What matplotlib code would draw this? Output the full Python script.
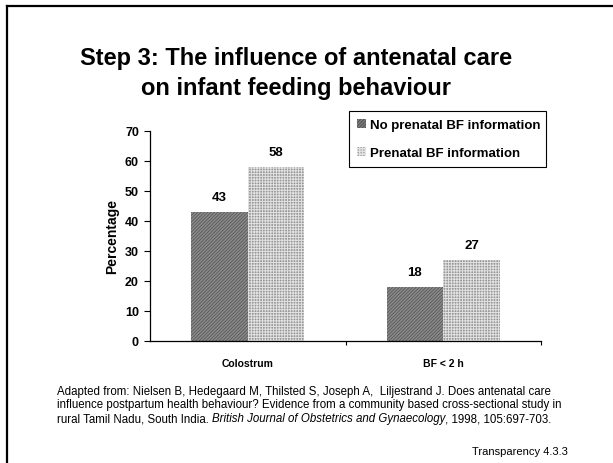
import matplotlib
matplotlib.use("Agg")
import matplotlib.pyplot as plt
from matplotlib.lines import Line2D
import numpy as np

plt.rcParams['font.family'] = ['Liberation Sans', 'DejaVu Sans']

categories = ["Colostrum", "BF < 2 h"]
series_names = ["No prenatal BF information", "Prenatal BF information"]
no_info = [43, 18]
with_info = [58, 27]
y_ticks = [0, 10, 20, 30, 40, 50, 60, 70]

W, H = 613, 464
fig = plt.figure(figsize=(W / 100, H / 100), dpi=100)


def fx(px):
    return px / W


def fy(py):
    return 1 - py / H


# slide frame: top and left edges (the rest runs off the page)
fig.lines.append(Line2D([fx(7), 1.0], [fy(7), fy(7)], transform=fig.transFigure,
                        color='black', linewidth=1.6))
fig.lines.append(Line2D([fx(7), fx(7)], [fy(7), 0.0], transform=fig.transFigure,
                        color='black', linewidth=1.6))

fig.text(fx(296), fy(58), "Step 3: The influence of antenatal care",
         ha='center', va='center', fontsize=17, fontweight='bold')
fig.text(fx(296), fy(88), "on infant feeding behaviour",
         ha='center', va='center', fontsize=17, fontweight='bold')

ax = fig.add_axes([fx(150), fy(342), (541 - 150) / W, (342 - 132) / H])

x = np.arange(len(categories))
bw = 0.29
with plt.rc_context({'hatch.linewidth': 0.6}):
    b1 = ax.bar(x - bw / 2, no_info, bw, facecolor='#8a8a8a', edgecolor='#585858',
                hatch='//////////', linewidth=0, label=series_names[0])
with plt.rc_context({'hatch.linewidth': 0.7}):
    b2 = ax.bar(x + bw / 2, with_info, bw, facecolor='#999999', edgecolor='#e2e2e2',
                hatch='++++++', linewidth=0, label=series_names[1])

for bars, vals in ((b1, no_info), (b2, with_info)):
    for r, v in zip(bars, vals):
        ax.text(r.get_x() + r.get_width() / 2, v + 3, str(v), ha='center',
                va='bottom', fontsize=9.5, fontweight='bold')

ax.set_xlim(-0.5, 1.5)
ax.set_ylim(0, 70)
ax.set_yticks(y_ticks)
ax.set_yticklabels([str(t) for t in y_ticks], fontsize=9, fontweight='bold')
ax.set_xticks(x)
ax.set_xticklabels(categories, fontsize=7.5, fontweight='bold')
ax.tick_params(axis='x', which='major', length=0, pad=12)
ax.set_xticks([0.5, 1.5], minor=True)
ax.tick_params(axis='x', which='minor', length=3, direction='out', width=0.8)
ax.tick_params(axis='y', length=4, width=0.8, pad=4)
ax.set_ylabel("Percentage", fontsize=10, fontweight='bold', labelpad=4)
for s in ('top', 'right'):
    ax.spines[s].set_visible(False)
for s in ('left', 'bottom'):
    ax.spines[s].set_linewidth(0.9)

leg = fig.legend(handles=[b1, b2], labels=series_names,
                 bbox_to_anchor=(fx(349), fy(168), (546 - 349) / W, 0.01),
                 loc='lower left', mode='expand', borderaxespad=0,
                 fancybox=False, edgecolor='black', framealpha=1,
                 prop={'size': 9.5, 'weight': 'bold'},
                 handlelength=0.7, handleheight=0.7, handletextpad=0.3,
                 labelspacing=1.2, borderpad=0.6)
leg.get_frame().set_linewidth(0.8)

fs = 8.3
fig.text(fx(57), fy(392), "Adapted from: Nielsen B, Hedegaard M, Thilsted S, "
         "Joseph A,  Liljestrand J. Does antenatal care",
         ha='left', va='center', fontsize=fs)
fig.text(fx(57), fy(405), "influence postpartum health behaviour? Evidence from "
         "a community based cross-sectional study in",
         ha='left', va='center', fontsize=fs)
# third line: plain text, italic journal name, plain citation details
t3 = fig.text(fx(57), fy(419), "rural Tamil Nadu, South India. ", ha='left',
              va='center', fontsize=fs)
fig.canvas.draw()
bb = t3.get_window_extent()
t4 = fig.text(bb.x1 / W, fy(419), "British Journal of Obstetrics and Gynaecology",
              ha='left', va='center', fontsize=fs, style='italic')
fig.canvas.draw()
bb4 = t4.get_window_extent()
fig.text(bb4.x1 / W, fy(419), ", 1998, 105:697-703.", ha='left',
         va='center', fontsize=fs)

fig.text(fx(568), fy(452), "Transparency 4.3.3", ha='right', va='center',
         fontsize=8)

fig.savefig("out.png", dpi=100)
